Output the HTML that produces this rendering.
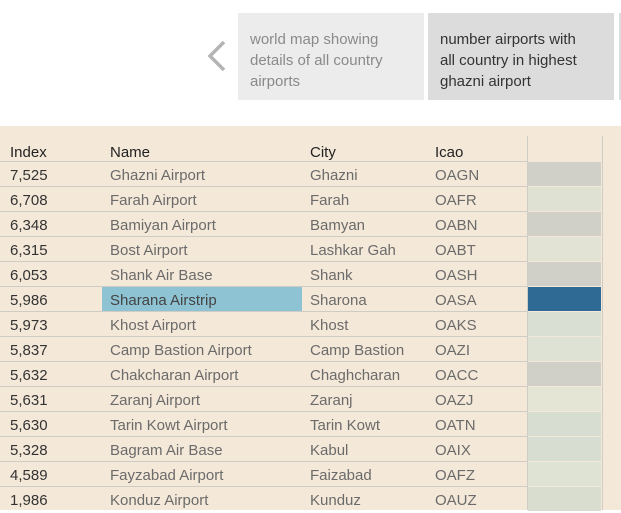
<!DOCTYPE html>
<html><head><meta charset="utf-8"><style>
body{margin:0;width:621px;height:510px;overflow:hidden;background:#fff;font-family:"Liberation Sans",sans-serif;position:relative}
.abs{position:absolute}
.story{position:absolute;top:13px;height:87px;width:186px;box-sizing:border-box;padding:16px 26px 0 12px;font-size:15px;line-height:21px}
#panel{position:absolute;left:0;top:126px;width:621px;height:384px;background:#f4e8d8}
.cell{position:absolute;font-size:15px;line-height:25px;white-space:nowrap}
.hline{position:absolute;left:0;width:527px;height:1px;background:#cfcbc5}
</style></head><body>
<svg class="abs" style="left:200px;top:38px" width="30" height="36"><polyline points="24,4 10,18 24,32" fill="none" stroke="#b4b4b4" stroke-width="3.5"/></svg>
<div class="story" style="left:238px;background:#ececec;color:#8a8a8a">world map showing details of all country airports</div>
<div class="story" style="left:428px;background:#dcdcdc;color:#333">number airports with all country in highest ghazni airport</div>
<div class="abs" style="left:619px;top:13px;width:4px;height:87px;background:#dcdcdc"></div>
<div id="panel"></div>
<script>
const indexes=["7,525","6,708","6,348","6,315","6,053","5,986","5,973","5,837","5,632","5,631","5,630","5,328","4,589","1,986"];
const names=["Ghazni Airport","Farah Airport","Bamiyan Airport","Bost Airport","Shank Air Base","Sharana Airstrip","Khost Airport","Camp Bastion Airport","Chakcharan Airport","Zaranj Airport","Tarin Kowt Airport","Bagram Air Base","Fayzabad Airport","Konduz Airport"];
const cities=["Ghazni","Farah","Bamyan","Lashkar Gah","Shank","Sharona","Khost","Camp Bastion","Chaghcharan","Zaranj","Tarin Kowt","Kabul","Faizabad","Kunduz"];
const icaos=["OAGN","OAFR","OABN","OABT","OASH","OASA","OAKS","OAZI","OACC","OAZJ","OATN","OAIX","OAFZ","OAUZ"];
const colors=["#d0d0c8","#dfe1d3","#d0d0c8","#e2e3d5","#d0d0c8","#2e6a94","#d9dfd3","#dde2d4","#d0d0c8","#e5e5d5","#d7ddd0","#d8ddd1","#dfe3d4","#d8ddd0"];
const selected=5;
const p=document.getElementById('panel');
function add(tag,css,text){const e=document.createElement(tag);e.style.cssText=css;if(text!==undefined)e.textContent=text;p.appendChild(e);return e;}
const heads=["Index","Name","City","Icao"],hx=[10,110,310,435];
heads.forEach((h,i)=>{const e=add('div','left:'+hx[i]+'px;top:14px;color:#222',h);e.className='cell';

});
const v1=add('div','position:absolute;left:527px;top:10px;width:1px;height:374px;background:#cfcbc5');


const v2=add('div','position:absolute;left:602px;top:10px;width:1px;height:374px;background:#cfcbc5');


for(let i=0;i<indexes.length;i++){
 const top=36+25*i;
 const l=add('div','top:'+(top-1)+'px');l.className='hline';
 
 
 if(i===selected){const h=add('div','position:absolute;left:102px;top:'+top+'px;width:200px;height:24px;background:#8ec3d3');
 
 }
 const vals=[indexes[i],names[i],cities[i],icaos[i]];
 vals.forEach((v,j)=>{const e=add('div','left:'+hx[j]+'px;top:'+(top+1)+'px;color:'+(j===0?'#333':(i===selected&&j===1?'#444':'#6b6b6b')),v);e.className='cell';
 
 });
 const c=add('div','position:absolute;left:528px;top:'+top+'px;width:73px;height:24px;background:'+colors[i]);
 
 
}
</script>
</body></html>
